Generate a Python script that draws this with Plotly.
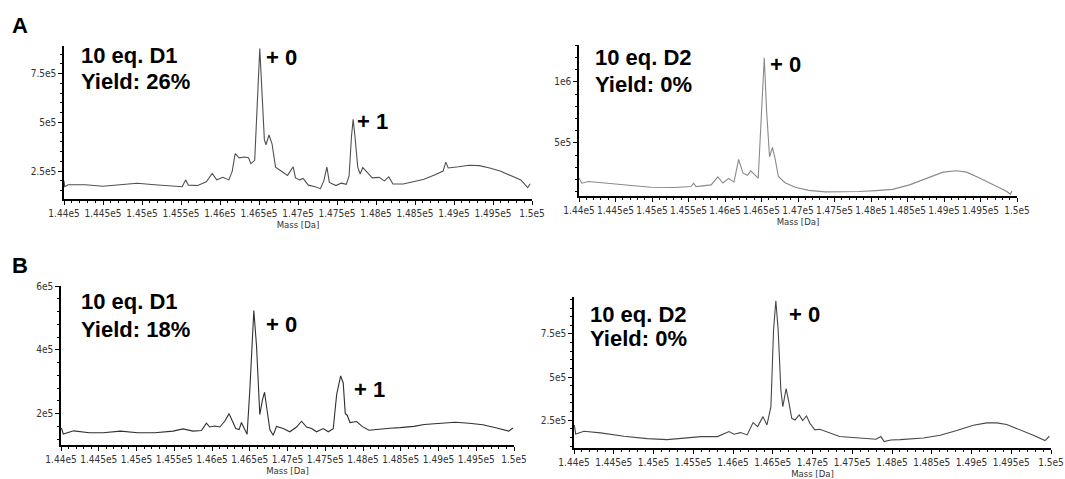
import plotly.graph_objects as go

# ---------------- data (mass in Da, intensity in counts) ----------------
A1_mass = [144000, 144009, 144053, 144275, 144496, 144718, 144939, 145161, 145382, 145515,
           145559, 145595, 145714, 145825, 145900, 145958, 146038, 146113, 146157, 146195,
           146246, 146312, 146366, 146395, 146445, 146481, 146510, 146540, 146569, 146590,
           146628, 146667, 146712, 146778, 146866, 146938, 146968, 147021, 147066, 147132,
           147221, 147287, 147331, 147370, 147402, 147486, 147553, 147619, 147655, 147686,
           147707, 147730, 147766, 147797, 147830, 147885, 147952, 148040, 148107, 148164,
           148217, 148350, 148483, 148616, 148749, 148860, 148895, 148926, 149059, 149192,
           149325, 149458, 149591, 149724, 149857, 149945, 149976]
A1_int = [200000, 170000, 180000, 180000, 172000, 180000, 188000, 180000, 175000, 170000,
          205000, 178000, 176000, 195000, 238000, 205000, 218000, 205000, 250000, 340000,
          318000, 322000, 318000, 288000, 305000, 640000, 878000, 640000, 410000, 385000,
          435000, 390000, 270000, 252000, 228000, 272000, 215000, 205000, 212000, 178000,
          170000, 160000, 200000, 270000, 192000, 176000, 188000, 182000, 225000, 430000,
          515000, 430000, 270000, 235000, 268000, 245000, 215000, 218000, 200000, 220000,
          184000, 184000, 196000, 208000, 230000, 250000, 296000, 266000, 272000, 280000,
          278000, 266000, 250000, 228000, 205000, 165000, 185000]

A2_mass = [144005, 144037, 144129, 144382, 144659, 144981, 145303, 145533, 145570, 145603,
           145810, 145902, 145971, 146049, 146123, 146187, 146247, 146307, 146353, 146408,
           146455, 146501, 146538, 146570, 146610, 146650, 146685, 146731, 146823, 146961,
           147145, 147375, 147606, 147836, 148066, 148296, 148527, 148757, 148987, 149171,
           149310, 149494, 149678, 149862, 149908, 149931]
A2_int = [212000, 170800, 184500, 170800, 151600, 137800, 135100, 143300, 170800, 143300,
          157100, 222000, 172000, 210000, 179000, 365000, 253000, 236000, 272000, 235000,
          212000, 761000, 1198000, 761000, 386000, 463000, 376700, 225700, 175000, 138000,
          112000, 100000, 100000, 103000, 110000, 120000, 157100, 212000, 261400, 272400,
          261400, 212000, 157100, 102100, 80100, 107700]

B1_mass = [144005, 144030, 144169, 144375, 144558, 144787, 145015, 145244, 145484, 145616,
           145749, 145860, 145926, 145970, 146036, 146103, 146169, 146226, 146271, 146315,
           146359, 146390, 146434, 146465, 146501, 146554, 146590, 146633, 146669, 146696,
           146722, 146766, 146810, 146855, 146943, 147031, 147120, 147186, 147253, 147319,
           147385, 147473, 147540, 147606, 147651, 147704, 147738, 147765, 147791, 147827,
           147916, 147988, 148079, 148216, 148353, 148491, 148674, 148811, 149039, 149222,
           149405, 149588, 149771, 149931, 149986]
B1_int = [155000, 136000, 146000, 140000, 140000, 145000, 140000, 140000, 145000, 152000,
          145000, 147000, 170000, 158000, 161000, 158000, 176000, 200000, 176000, 153000,
          150000, 172000, 150000, 135000, 275000, 523000, 411000, 197000, 244000, 267000,
          223000, 150000, 132000, 160000, 153000, 143000, 158000, 176000, 158000, 153000,
          143000, 153000, 143000, 153000, 260000, 318000, 296000, 200000, 195000, 172000,
          175000, 160000, 148000, 152000, 154000, 156000, 160000, 166000, 170000, 173000,
          170000, 165000, 155000, 145000, 155000]

B2_mass = [144004, 144021, 144126, 144335, 144628, 144921, 145172, 145389, 145597, 145804,
           145950, 146012, 146095, 146178, 146253, 146311, 146377, 146427, 146477, 146510,
           146539, 146568, 146602, 146627, 146668, 146697, 146739, 146780, 146834, 146876,
           146925, 146967, 147029, 147092, 147175, 147258, 147341, 147466, 147632, 147798,
           147860, 147902, 147985, 148103, 148396, 148606, 148815, 149024, 149192, 149318,
           149443, 149611, 149778, 149925, 149979]
B2_int = [220800, 170200, 185800, 176100, 156600, 143000, 137200, 144900, 154700, 154700,
          183700, 168300, 177800, 164400, 235800, 212600, 270400, 222200, 328400, 772400,
          942200, 772400, 424900, 328400, 432700, 366900, 260900, 251200, 280200, 247300,
          274300, 231900, 193400, 197100, 183700, 170000, 154700, 150800, 144900, 139100,
          154700, 125500, 135200, 137200, 146900, 162400, 189700, 220800, 234400, 234400,
          224700, 195500, 162400, 131300, 156600]

x_tickvals = [144000 + 500 * i for i in range(13)]
x_ticktext = ["1.44e5", "1.445e5", "1.45e5", "1.455e5", "1.46e5", "1.465e5", "1.47e5",
              "1.475e5", "1.48e5", "1.485e5", "1.49e5", "1.495e5", "1.5e5"]

A1_yticks = [250000, 500000, 750000]; A1_ytext = ["2.5e5", "5e5", "7.5e5"]
A2_yticks = [500000, 1000000];        A2_ytext = ["5e5", "1e6"]
B1_yticks = [200000, 400000, 600000]; B1_ytext = ["2e5", "4e5", "6e5"]
B2_yticks = [250000, 500000, 750000]; B2_ytext = ["2.5e5", "5e5", "7.5e5"]

# ---------------- layout helpers ----------------
W, H = 1065, 479
def px(x):
    return x / W
def py(y):
    return 1 - y / H

TICKFONT = dict(family="Liberation Sans Narrow, DejaVu Sans Condensed, Arial", size=10, color="#333")

panels = [
    # name, mass, int, color, x-domain px, y-domain px (top,bottom), yrange, yticks, ytext, yminor
    ("1", A1_mass, A1_int, "#505050", (64, 532), (46, 199), (107000, 891000), A1_yticks, A1_ytext, 50000),
    ("2", A2_mass, A2_int, "#8a8a8a", (579, 1017), (45, 196), (66000, 1302000), A2_yticks, A2_ytext, 100000),
    ("3", B1_mass, B1_int, "#303030", (61, 514), (286, 445), (101600, 600000), B1_yticks, B1_ytext, 40000),
    ("4", B2_mass, B2_int, "#484848", (574, 1051), (297, 448), (88500, 964000), B2_yticks, B2_ytext, 50000),
]

fig = go.Figure()
layout = dict(
    width=W, height=H,
    margin=dict(l=0, r=0, t=0, b=0, autoexpand=False),
    paper_bgcolor="white", plot_bgcolor="white",
    showlegend=False,
)

for name, mx, my, col, (x0, x1), (yt, yb), yr, ytv, ytt, yminor in panels:
    xa = "x" if name == "1" else "x" + name
    ya = "y" if name == "1" else "y" + name
    fig.add_trace(go.Scatter(x=mx, y=my, mode="lines", line=dict(color=col, width=1.1),
                             xaxis=xa, yaxis=ya, hoverinfo="skip"))
    xkey = "xaxis" if name == "1" else "xaxis" + name
    ykey = "yaxis" if name == "1" else "yaxis" + name
    layout[xkey] = dict(
        domain=[px(x0), px(x1)], anchor=ya, range=[144000, 150000], automargin=False,
        showline=True, linecolor="black", linewidth=1.5, showgrid=False, zeroline=False,
        ticks="outside", ticklen=4, tickwidth=1, tickcolor="black", tickangle=0,
        tickvals=x_tickvals, ticktext=x_ticktext, tickfont=TICKFONT,
        minor=dict(ticks="outside", ticklen=2, tickwidth=1, tickcolor="black", dtick=100, tick0=144000),
        title=dict(text="Mass [Da]", font=dict(family=TICKFONT["family"], size=9.5, color="#333"), standoff=2),
        fixedrange=True,
    )
    layout[ykey] = dict(
        domain=[py(yb), py(yt)], anchor=xa, range=list(yr), automargin=False,
        showline=True, linecolor="black", linewidth=1.5, showgrid=False, zeroline=False,
        ticks="outside", ticklen=4, tickwidth=1, tickcolor="black",
        tickvals=ytv, ticktext=ytt, tickfont=TICKFONT,
        minor=dict(ticks="outside", ticklen=2, tickwidth=1, tickcolor="black", dtick=yminor, tick0=0),
        fixedrange=True,
    )

fig.update_layout(**layout)

BIG = dict(family="Liberation Sans, Arial", size=22, color="black")
def label(text, x, ycap, size=22):
    # x = left edge, ycap = top of capitals (pixels)
    fig.add_annotation(text="<b>" + text + "</b>", x=px(x - 1), y=py(ycap - 0.27 * size),
                       xref="paper", yref="paper", xanchor="left", yanchor="top",
                       showarrow=False, font=dict(BIG, size=size), borderpad=0)

label("A", 12, 18, 22)
label("B", 12, 258, 22)
# A1
label("10 eq. D1", 81, 48); label("Yield: 26%", 81, 74)
label("+ 0", 266, 50); label("+ 1", 357, 114)
# A2
label("10 eq. D2", 595, 50); label("Yield: 0%", 595, 77)
label("+ 0", 770, 57)
# B1
label("10 eq. D1", 81, 294); label("Yield: 18%", 81, 322)
label("+ 0", 266, 317); label("+ 1", 354, 382)
# B2
label("10 eq. D2", 590, 307); label("Yield: 0%", 590, 331)
label("+ 0", 789, 307)

fig.write_html("out.html", config={"responsive": False, "displayModeBar": False},
               post_script="document.body.style.margin='0';document.body.style.overflow='hidden';")
